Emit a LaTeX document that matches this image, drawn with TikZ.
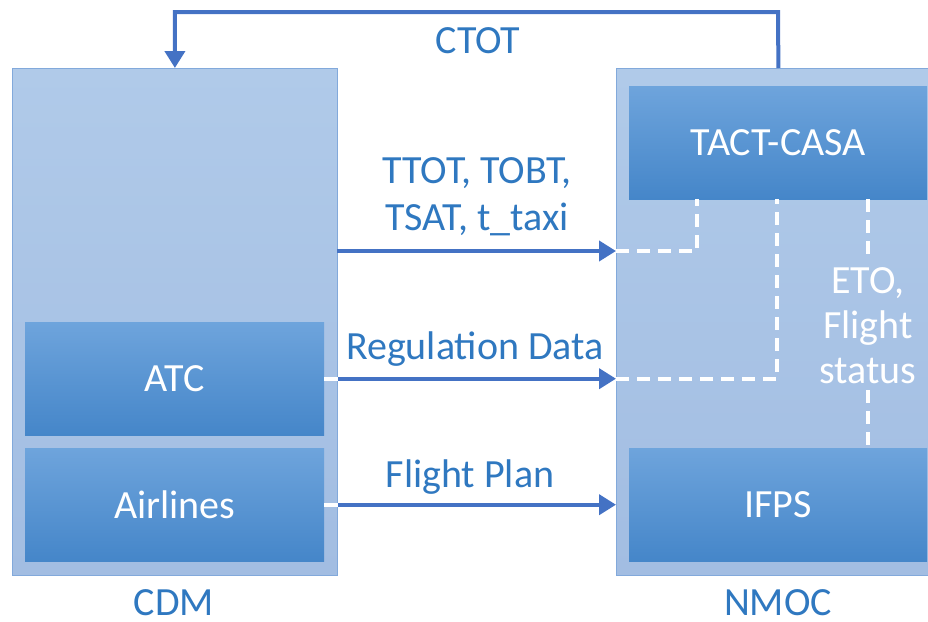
\documentclass[tikz,border=0pt]{standalone}
\usepackage{fontspec}
\setmainfont{Carlito}
\usetikzlibrary{arrows.meta,calc}

\definecolor{panelTop}{HTML}{B0CAE9}
\definecolor{panelBot}{HTML}{A2BDE2}
\definecolor{panelLine}{HTML}{82A9DB}
\definecolor{unitTop}{HTML}{6EA4DC}
\definecolor{unitBot}{HTML}{4586C9}
\definecolor{flowBlue}{HTML}{4472C4}
\definecolor{labelBlue}{HTML}{2F78C0}

\tikzset{
  panel/.style={anchor=north west, inner sep=0pt, draw=panelLine, line width=0.8pt,
    top color=panelTop, bottom color=panelBot},
  unit/.style={anchor=north west, inner sep=0pt, draw=none,
    top color=unitTop, bottom color=unitBot},
  unittext/.style={text=white, font=\fontsize{40}{46}\selectfont, inner sep=0pt},
  lbl/.style={text=labelBlue, font=\fontsize{40}{47}\selectfont, align=center, inner sep=0pt},
  grouptitle/.style={text=labelBlue, font=\fontsize{40}{47}\selectfont, inner sep=0pt},
  flow/.style={draw=flowBlue, line width=4pt, -{Triangle[length=17pt,width=20pt]}},
  wdash/.style={draw=white, line width=4pt, dash pattern=on 13pt off 8pt},
}

\begin{document}
\begin{tikzpicture}[x=1pt,y=-1pt]
\useasboundingbox (0,0) rectangle (928,621);
\clip (0,0) rectangle (928,621);

% outer groups
\node[panel, minimum width=325pt, minimum height=507pt] (cdm) at (12,68) {};
\node[panel, minimum width=324pt, minimum height=507pt] (nmoc) at (616,68) {};

% inner units
\node[unit, minimum width=299pt, minimum height=113pt] (atc) at (25,322) {};
\node[unittext] (atctxt) at (atc.center) {ATC};
\node[unit, minimum width=299pt, minimum height=113pt] (air) at (25,448) {};
\node[unittext] (airtxt) at (air.center) {Airlines};
\node[unit, minimum width=298pt, minimum height=113pt] (tact) at (629,86) {};
\node[unittext] (tacttxt) at (tact.center) {TACT-CASA};
\node[unit, minimum width=298pt, minimum height=113pt] (ifps) at (629,448) {};
\node[unittext] (ifpstxt) at (ifps.center) {IFPS};

% group captions
\node[grouptitle] (cdmlbl) at (174,603) {CDM};
\node[grouptitle] (nmoclbl) at (778,603) {NMOC};

% flow labels
\node[lbl] (ctotlbl) at (478,41) {CTOT};
\node[lbl] (ttotlbl) at (477,197) {TTOT, TOBT,\\TSAT, t\_taxi};
\node[lbl] (reglbl) at (475,349) {Regulation Data};
\node[lbl] (fplbl) at (470,477) {Flight Plan};
\node[lbl, text=white, inner sep=6pt, font=\fontsize{40}{45}\selectfont] (eto) at (868,326) {ETO,\\Flight\\status};

% CTOT feedback
\coordinate (topturn) at (778,12);
\draw[flow] (nmoc.north) -- (topturn) -| (cdm.north);

% TTOT / TOBT / TSAT
\coordinate (ttotA) at (337,251);
\coordinate (ttotB) at (616,251);
\coordinate (ttotC) at (697,251);
\draw[flow] (ttotA) -- (ttotB);
\draw[wdash] (ttotB) -- (ttotC) -- (tact.south -| ttotC);

% Regulation data
\coordinate (regA) at (cdm.east |- atc.east);
\coordinate (regB) at (nmoc.west |- atc.east);
\coordinate (regC) at (777,0);
\draw[draw=white, line width=4pt] (atc.east) -- (regA);
\draw[flow] (regA) -- (regB);
\draw[wdash] (regB) -- (regB -| regC) -- (tact.south -| regC);

% Flight plan
\coordinate (fpA) at (cdm.east |- air.east);
\coordinate (fpB) at (nmoc.west |- air.east);
\draw[draw=white, line width=4pt] (air.east) -- (fpA);
\draw[flow] (fpA) -- (fpB);

% ETO / flight status link
\draw[wdash] (tact.south -| eto.north) -- (eto.north);
\draw[wdash] (eto.south) -- (ifps.north -| eto.south);
\end{tikzpicture}
\end{document}
